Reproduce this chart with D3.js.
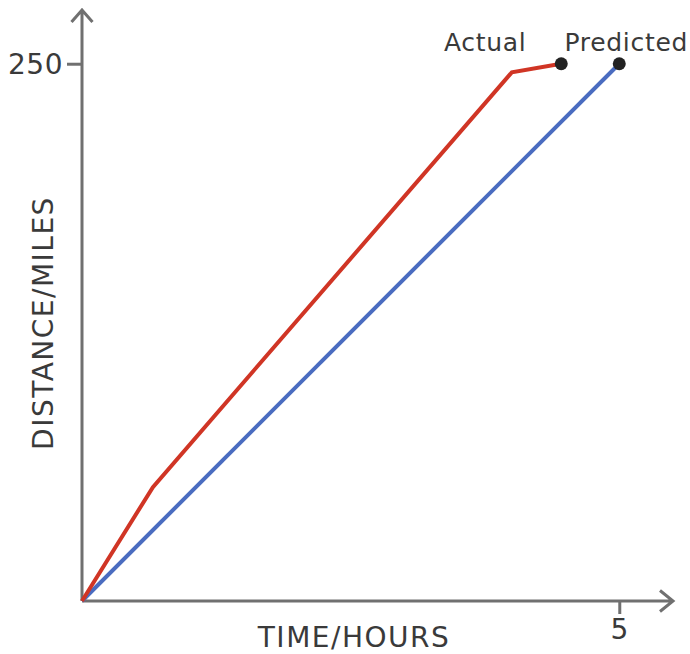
<!DOCTYPE html>
<html>
<head>
<meta charset="utf-8">
<script src="https://cdn.jsdelivr.net/npm/d3@7"></script>
<style>
  html, body { margin: 0; padding: 0; background: #fff; }
  text { font-family: "DejaVu Sans", Verdana, sans-serif; fill: #3a3a3a; }
  .axis .tick line { stroke: #707070; stroke-width: 3; }
  .axis .tick text { font-size: 28px; fill: #3a3a3a; letter-spacing: 0.5px; }
</style>
</head>
<body>
<div id="chartWrap"></div>
<script>
'use strict'
// Data
const actualTime = [0, 0.66, 4.0, 4.46];
const actualDistance = [0, 53, 246, 250];
const predictedTime = [0, 5];
const predictedDistance = [0, 250];
const xTicks = [5];
const yTicks = [250];
const seriesLabels = ['Actual', 'Predicted'];

window.addEventListener('DOMContentLoaded', function() {
    const svgWidth = 690, svgHeight = 654;
    const origin = { x: 82, y: 601 };
    const axisColor = '#707070';

    const svg = d3.select('#chartWrap')
        .append('svg')
        .attr('width', svgWidth)
        .attr('height', svgHeight);

    const xScale = d3.scaleLinear().domain([0, 5.5]).range([origin.x, 673]);
    const yScale = d3.scaleLinear().domain([0, 275]).range([origin.y, 10]);

    // Axes (ticks only, domain drawn by hand with arrowheads)
    svg.append('g')
        .attr('class', 'axis axis-x')
        .attr('transform', `translate(0, ${origin.y})`)
        .call(d3.axisBottom(xScale).tickValues(xTicks).tickSize(13).tickPadding(5).tickFormat(d3.format('d')))
        .call(g => g.select('.domain').remove());

    svg.append('g')
        .attr('class', 'axis axis-y')
        .attr('transform', `translate(${origin.x}, 0)`)
        .call(d3.axisLeft(yScale).tickValues(yTicks).tickSize(15).tickPadding(4).tickFormat(d3.format('d')))
        .call(g => g.select('.domain').remove())
        .call(g => g.selectAll('.tick text').attr('dy', '0.36em'));

    // Axis lines with arrows
    const xEnd = xScale.range()[1], yEnd = yScale.range()[1];
    svg.append('path')
        .attr('d', `M${origin.x},${origin.y}H${xEnd}M${xEnd - 13},${origin.y - 10.5}L${xEnd},${origin.y}L${xEnd - 13},${origin.y + 10.5}`)
        .attr('fill', 'none')
        .attr('stroke', axisColor)
        .attr('stroke-width', 3);
    svg.append('path')
        .attr('d', `M${origin.x},${origin.y}V${yEnd}M${origin.x - 10.5},${yEnd + 12}L${origin.x},${yEnd}L${origin.x + 10.5},${yEnd + 12}`)
        .attr('fill', 'none')
        .attr('stroke', axisColor)
        .attr('stroke-width', 3);

    // Axis titles
    svg.append('text')
        .attr('x', 354)
        .attr('y', 647)
        .attr('text-anchor', 'middle')
        .attr('font-size', 28)
        .attr('letter-spacing', 1.5)
        .text('TIME/HOURS');
    svg.append('text')
        .attr('transform', 'translate(53, 323) rotate(-90)')
        .attr('text-anchor', 'middle')
        .attr('font-size', 28)
        .attr('letter-spacing', 1.5)
        .text('DISTANCE/MILES');

    // Lines
    const line = d3.line().x(d => xScale(d[0])).y(d => yScale(d[1]));
    const predicted = predictedTime.map((t, i) => [t, predictedDistance[i]]);
    const actual = actualTime.map((t, i) => [t, actualDistance[i]]);

    svg.append('path')
        .datum(predicted)
        .attr('d', line)
        .attr('fill', 'none')
        .attr('stroke', '#4a6cc0')
        .attr('stroke-width', 4);
    svg.append('path')
        .datum(actual)
        .attr('d', line)
        .attr('fill', 'none')
        .attr('stroke', '#d03525')
        .attr('stroke-width', 4);

    // End dots and labels
    const ends = [actual[actual.length - 1], predicted[predicted.length - 1]];
    const labelOffset = [-76, 7];
    svg.selectAll('circle.end')
        .data(ends)
        .join('circle')
        .attr('class', 'end')
        .attr('cx', d => xScale(d[0]))
        .attr('cy', d => yScale(d[1]))
        .attr('r', 6.5)
        .attr('fill', '#222');
    svg.selectAll('text.series-label')
        .data(ends)
        .join('text')
        .attr('class', 'series-label')
        .attr('x', (d, i) => xScale(d[0]) + labelOffset[i])
        .attr('y', d => yScale(d[1]) - 13)
        .attr('text-anchor', 'middle')
        .attr('font-size', 25)
        .attr('letter-spacing', 0.7)
        .text((d, i) => seriesLabels[i]);
});
</script>
</body>
</html>
